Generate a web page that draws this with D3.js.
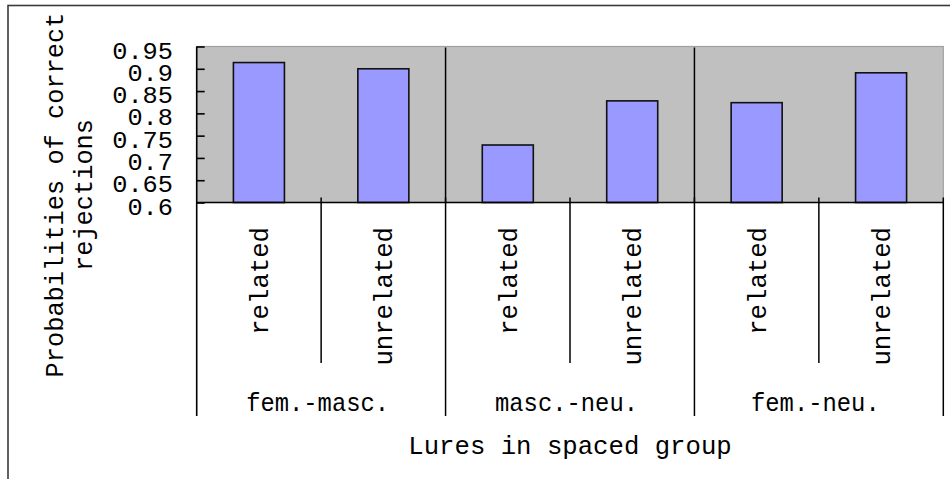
<!DOCTYPE html>
<html>
<head>
<meta charset="utf-8">
<script src="https://cdn.jsdelivr.net/npm/d3@7"></script>
<style>
  html, body { margin: 0; padding: 0; background: #ffffff; }
  svg { display: block; }
  text { font-family: "Liberation Mono", "DejaVu Sans Mono", monospace; fill: #000; }
</style>
</head>
<body>
<svg id="chart" width="950" height="479"></svg>
<script>
// Correct-rejection probabilities for lures in the spaced group
const groups = ["fem.-masc.", "masc.-neu.", "fem.-neu."];
const lureTypes = ["related", "unrelated"];
const values = [0.914, 0.900, 0.729, 0.828, 0.824, 0.891];
const yTicks = [0.6, 0.65, 0.7, 0.75, 0.8, 0.85, 0.9, 0.95];
const yTickLabels = ["0.6", "0.65", "0.7", "0.75", "0.8", "0.85", "0.9", "0.95"];
const yTitle = ["Probabilities of correct", "rejections"];
const xTitle = "Lures in spaced group";

const rows = [];
groups.forEach((g, gi) => lureTypes.forEach((t, ti) => {
  rows.push({ key: g + "|" + t, group: g, type: t, value: values[gi * lureTypes.length + ti] });
}));

const svg = d3.select("#chart");
const plot = { left: 196.7, right: 943.3, top: 46.5, bottom: 202.5 };
const catLineBottom = 363, groupLineBottom = 416;
const charW = 15.2;
const fontSize = 26;
const tickFontSize = 23;

// outer chart border
svg.append("rect")
  .attr("x", 8).attr("y", 5.5).attr("width", 960).attr("height", 490)
  .attr("fill", "none").attr("stroke", "#3a3a3a").attr("stroke-width", 1.6);

const x = d3.scaleBand()
  .domain(rows.map(d => d.key))
  .range([plot.left, plot.right])
  .paddingInner(0.59)
  .paddingOuter(0.295);
const step = x.step();
const y = d3.scaleLinear().domain([0.6, 0.95]).range([plot.bottom, plot.top]);

// plot area
svg.append("rect")
  .attr("x", plot.left).attr("y", plot.top)
  .attr("width", plot.right - plot.left).attr("height", plot.bottom - plot.top)
  .attr("fill", "#c0c0c0").attr("stroke", "#a0a0a0").attr("stroke-width", 1.2);

// category boundaries
const bounds = d3.range(rows.length + 1).map(i => plot.left + i * step);
const perGroup = lureTypes.length;

// group dividers inside the plot
svg.append("g").selectAll("line")
  .data(bounds.filter((b, i) => i % perGroup === 0 && i > 0 && i < rows.length))
  .join("line")
  .attr("x1", d => d).attr("x2", d => d)
  .attr("y1", plot.top + 1).attr("y2", plot.bottom)
  .attr("stroke", "#000").attr("stroke-width", 1.5);

// bars
svg.append("g").selectAll("rect")
  .data(rows)
  .join("rect")
  .attr("x", d => x(d.key))
  .attr("width", x.bandwidth())
  .attr("y", d => y(d.value))
  .attr("height", d => y(0.6) - y(d.value))
  .attr("fill", "#9999ff")
  .attr("stroke", "#111").attr("stroke-width", 1.6);

// y axis: ticks point inward, labels on the left
const yAxis = d3.axisLeft(y)
  .tickValues(yTicks)
  .tickFormat((d, i) => yTickLabels[i])
  .tickSizeInner(-8)
  .tickSizeOuter(0)
  .tickPadding(23.7);
const ya = svg.append("g").attr("transform", `translate(${plot.left},0)`).call(yAxis);
ya.select(".domain").remove();
ya.selectAll(".tick line").attr("stroke", "#000").attr("stroke-width", 1.6);
ya.selectAll(".tick text")
  .attr("font-family", "Liberation Mono, DejaVu Sans Mono, monospace")
  .attr("font-size", tickFontSize)
  .attr("dy", 11.5)
  .attr("fill", "#000")
  .attr("textLength", (d, i) => yTickLabels[i].length * charW)
  .attr("lengthAdjust", "spacingAndGlyphs");

// axis lines
svg.append("line")
  .attr("x1", plot.left).attr("x2", plot.left)
  .attr("y1", plot.top).attr("y2", groupLineBottom)
  .attr("stroke", "#000").attr("stroke-width", 1.6);
svg.append("line")
  .attr("x1", plot.left).attr("x2", plot.right)
  .attr("y1", plot.bottom).attr("y2", plot.bottom)
  .attr("stroke", "#000").attr("stroke-width", 1.6);

// category dividers below the axis
svg.append("g").selectAll("line")
  .data(bounds.map((b, i) => ({ b, i })).filter(d => d.i > 0))
  .join("line")
  .attr("x1", d => d.b).attr("x2", d => d.b)
  .attr("y1", plot.bottom - 5)
  .attr("y2", d => d.i % perGroup === 0 ? groupLineBottom : catLineBottom)
  .attr("stroke", "#000").attr("stroke-width", 1.5);

// lure type labels (rotated)
svg.append("g").selectAll("text")
  .data(rows)
  .join("text")
  .attr("transform", d => `translate(${x(d.key) + x.bandwidth() / 2 + 9},227) rotate(-90)`)
  .attr("text-anchor", "end")
  .attr("font-size", fontSize)
  .attr("textLength", d => d.type.length * 15.4)
  .attr("lengthAdjust", "spacingAndGlyphs")
  .text(d => d.type);

// group labels
svg.append("g").selectAll("text")
  .data(groups)
  .join("text")
  .attr("x", (g, gi) => (bounds[gi * perGroup] + bounds[(gi + 1) * perGroup]) / 2 - 3.5)
  .attr("y", 411)
  .attr("text-anchor", "middle")
  .attr("font-size", fontSize)
  .attr("textLength", g => g.length * 14.3)
  .attr("lengthAdjust", "spacingAndGlyphs")
  .text(g => g);

// x axis title
svg.append("text")
  .attr("x", (plot.left + plot.right) / 2)
  .attr("y", 454)
  .attr("text-anchor", "middle")
  .attr("font-size", fontSize)
  .attr("textLength", xTitle.length * 15.4)
  .attr("lengthAdjust", "spacingAndGlyphs")
  .text(xTitle);

// y axis title, two rotated lines
svg.append("g").selectAll("text")
  .data(yTitle)
  .join("text")
  .attr("transform", (t, i) => `translate(${i === 0 ? 63 : 92},195) rotate(-90)`)
  .attr("text-anchor", "middle")
  .attr("font-size", fontSize)
  .attr("textLength", t => t.length * 15.2)
  .attr("lengthAdjust", "spacingAndGlyphs")
  .text(t => t);
</script>
</body>
</html>
